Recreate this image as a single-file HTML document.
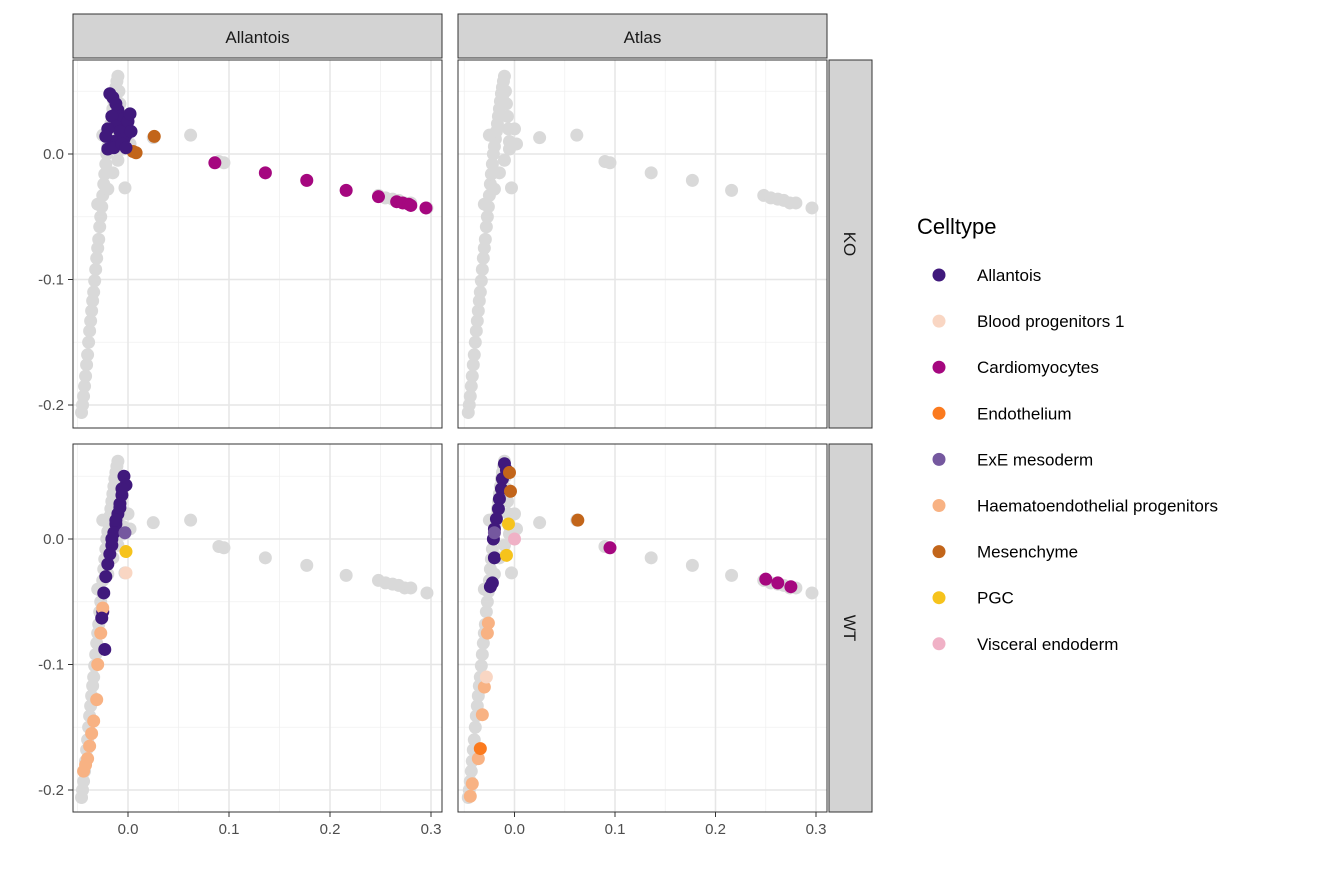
<!DOCTYPE html>
<html><head><meta charset="utf-8">
<style>
body{margin:0;background:#fff;font-family:"Liberation Sans",Arial,sans-serif;}
svg text{font-family:"Liberation Sans",Arial,sans-serif;}
</style></head>
<body>
<svg id="chart" width="1344" height="864" viewBox="0 0 1344 864"></svg>
<script>
// ---- data ----
const celltypes = ["Allantois","Blood progenitors 1","Cardiomyocytes","Endothelium","ExE mesoderm","Haematoendothelial progenitors","Mesenchyme","PGC","Visceral endoderm"];
const colors = ["#40197c","#f9d6c3","#a5077f","#fb7a1e","#75589f","#f8b283","#c2651a","#f6c31c","#f0b1c6"];
const xTicks = [0.0,0.1,0.2,0.3];
const xTickLabels = ["0.0","0.1","0.2","0.3"];
const yTicks = [0.0,-0.1,-0.2];
const yTickLabels = ["0.0","-0.1","-0.2"];
const colFacets = ["Allantois","Atlas"];
const rowFacets = ["KO","WT"];
// background (atlas) trajectory points
const bgX = [-0.046,-0.045,-0.044,-0.043,-0.042,-0.041,-0.040,-0.039,-0.038,-0.037,-0.036,-0.035,-0.034,-0.033,-0.032,-0.031,-0.030,-0.029,-0.028,-0.027,-0.026,-0.025,-0.024,-0.023,-0.022,-0.021,-0.020,-0.019,-0.018,-0.017,-0.016,-0.015,-0.014,-0.013,-0.012,-0.011,-0.010,-0.009,-0.008,-0.007,-0.006,-0.005,-0.020,-0.015,-0.010,-0.005,-0.003,0.0,0.002,-0.012,-0.025,-0.030,0.025,0.062,0.090,0.095,0.136,0.177,0.216,0.248,0.255,0.262,0.268,0.274,0.280,0.296];
const bgY = [-0.206,-0.200,-0.193,-0.185,-0.177,-0.168,-0.160,-0.150,-0.141,-0.133,-0.125,-0.117,-0.110,-0.101,-0.092,-0.083,-0.075,-0.068,-0.058,-0.050,-0.042,-0.033,-0.024,-0.016,-0.008,0.000,0.006,0.012,0.018,0.024,0.030,0.036,0.042,0.048,0.053,0.058,0.062,0.050,0.040,0.030,0.020,0.010,-0.028,-0.015,-0.005,0.004,-0.027,0.020,0.008,0.045,0.015,-0.040,0.013,0.015,-0.006,-0.007,-0.015,-0.021,-0.029,-0.033,-0.035,-0.036,-0.037,-0.039,-0.039,-0.043];
// colored points per panel
const ptPanel = [0,0,0,0,0,0,0,0,0,0,0,0,0,0, 0,0,0,0,0,0,0,0,0,0,0,
 0,0,0,0,0,0,0,0,0,0,0,0,
 2,2,2,2,2,2,2,2,2,2,2,2,2,2,2,2,2,2,2,2,2,2,2,2,2,2,2,2,
 2,2,2,2,
 3,3,3,3,3,3,3,3,3,3,3,3,3,3,3,3,3,3,3,3,3,3,3,3,3,3,3,3,3,3,3,3];
const ptType = [0,0,0,0,0,0,0,0,0,0,0,0,6,6, 6,2,2,2,2,2,2,2,2,2,2,
 0,0,0,0,0,0,0,0,0,0,0,0,
 0,0,0,0,0,0,0,0,0,0,0,0,0,0,4,7,1,5,5,5,5,5,5,5,5,5,5,0,
 0,0,0,0,
 0,0,0,0,0,0,0,0,0,0,0,6,6,4,7,7,8,0,5,5,5,5,5,3,5,1,5,6,2,2,2,2];
const ptX = [-0.018,-0.015,-0.012,-0.010,-0.008,-0.006,-0.004,-0.002,-0.010,-0.005,-0.020,-0.014,0.005,0.008, 0.026,0.086,0.136,0.177,0.216,0.248,0.266,0.272,0.278,0.280,0.295,
 -0.016,-0.012,-0.008,-0.004,0.000,0.002,-0.020,-0.014,-0.006,-0.002,0.003,-0.022,
 -0.004,-0.002,-0.006,-0.008,-0.010,-0.012,-0.014,-0.016,-0.018,-0.020,-0.022,-0.024,-0.025,-0.023,-0.003,-0.002,-0.002,-0.025,-0.027,-0.030,-0.031,-0.034,-0.036,-0.038,-0.040,-0.042,-0.044,-0.026,
 -0.008,-0.012,-0.016,-0.006,
 -0.010,-0.008,-0.012,-0.013,-0.015,-0.016,-0.018,-0.020,-0.021,-0.020,-0.024,-0.005,-0.004,-0.020,-0.006,-0.008,0.000,-0.022,-0.026,-0.027,-0.030,-0.032,-0.036,-0.034,-0.042,-0.028,-0.044,0.063,0.095,0.250,0.262,0.275,0.280];
const ptY = [0.048,0.045,0.040,0.035,0.030,0.025,0.020,0.015,0.010,0.028,0.004,0.010,0.002,0.001, 0.014,-0.007,-0.015,-0.021,-0.029,-0.034,-0.038,-0.039,-0.040,-0.041,-0.043,
 0.030,0.022,0.018,0.012,0.026,0.032,0.020,0.005,0.008,0.005,0.018,0.014,
 0.050,0.043,0.035,0.028,0.020,0.012,0.005,-0.005,-0.012,-0.020,-0.030,-0.043,-0.058,-0.088,0.005,-0.010,-0.027,-0.055,-0.075,-0.100,-0.128,-0.145,-0.155,-0.165,-0.175,-0.180,-0.185,-0.063,
 0.025,0.015,0.000,0.040,
 0.060,0.055,0.048,0.040,0.032,0.024,0.016,0.008,0.000,-0.015,-0.038,0.053,0.038,0.005,0.012,-0.013,0.000,-0.035,-0.067,-0.075,-0.118,-0.140,-0.175,-0.167,-0.195,-0.110,-0.205,0.015,-0.007,-0.032,-0.035,-0.038,-0.039];

// ---- layout ----
const NS="http://www.w3.org/2000/svg";
const svg=document.getElementById('chart');
function el(tag,attrs,parent){const e=document.createElementNS(NS,tag);for(const k in attrs)e.setAttribute(k,attrs[k]);(parent||svg).appendChild(e);return e;}
const colX0=[73,458], panelW=369, rowY0=[60,444], panelH=368;
function sx(col,v){const z=col===0?128:514.5, s=col===0?1010:1005;return z+v*s;}
function sy(row,v){const z=row===0?154:539;return z-v*1255;}

for(let r=0;r<2;r++)for(let c=0;c<2;c++){
  const p=r*2+c, x0=colX0[c], y0=rowY0[r];
  const g=el('g',{});
  
  
  el('rect',{x:x0,y:y0,width:panelW,height:panelH,fill:'#fff'},g);
  const cp=el('clipPath',{id:'cp'+p},g);el('rect',{x:x0,y:y0,width:panelW,height:panelH},cp);
  for(let i=-1;i<xTicks.length;i++){const v=(i<0?-0.05:xTicks[i]+0.05);const X=sx(c,v);if(X>x0&&X<x0+panelW)el('line',{x1:X,x2:X,y1:y0,y2:y0+panelH,stroke:'#f0f0f0','stroke-width':0.8},g);}
  [0.05,-0.05,-0.15].forEach(v=>{const Y=sy(r,v);el('line',{x1:x0,x2:x0+panelW,y1:Y,y2:Y,stroke:'#f0f0f0','stroke-width':0.8},g);});
  xTicks.forEach(v=>{const X=sx(c,v);el('line',{x1:X,x2:X,y1:y0,y2:y0+panelH,stroke:'#e6e6e6','stroke-width':1.5},g);});
  yTicks.forEach(v=>{const Y=sy(r,v);el('line',{x1:x0,x2:x0+panelW,y1:Y,y2:Y,stroke:'#e6e6e6','stroke-width':1.5},g);});
  const pg=el('g',{'clip-path':'url(#cp'+p+')'},g);
  for(let i=0;i<bgX.length;i++){const cc=el('circle',{cx:sx(c,bgX[i]),cy:sy(r,bgY[i]),r:6.5,fill:'#d9d9d9'},pg);
    
    }
  for(let i=0;i<ptX.length;i++){if(ptPanel[i]!==p)continue;const cc=el('circle',{cx:sx(c,ptX[i]),cy:sy(r,ptY[i]),r:6.5,fill:colors[ptType[i]]},pg);
    
    }
  el('rect',{x:x0,y:y0,width:panelW,height:panelH,fill:'none',stroke:'#333','stroke-width':1},g);
}
colFacets.forEach((f,c)=>{const g=el('g',{});
  el('rect',{x:colX0[c],y:14,width:panelW,height:44,fill:'#d3d3d3',stroke:'#333','stroke-width':1},g);
  const t=el('text',{x:colX0[c]+panelW/2,y:43,'text-anchor':'middle','font-size':17,fill:'#1a1a1a'},g);t.textContent=f;});
rowFacets.forEach((f,r)=>{const g=el('g',{});
  el('rect',{x:829,y:rowY0[r],width:43,height:panelH,fill:'#d3d3d3',stroke:'#333','stroke-width':1},g);
  const cy=rowY0[r]+panelH/2;const t=el('text',{x:844,y:cy,'text-anchor':'middle','font-size':17,fill:'#1a1a1a',transform:'rotate(90 844 '+cy+')'},g);t.textContent=f;});
for(let c=0;c<2;c++)xTicks.forEach((v,i)=>{const X=sx(c,v);el('line',{x1:X,x2:X,y1:812,y2:817,stroke:'#333'});
  const t=el('text',{x:X,y:834,'text-anchor':'middle','font-size':15,fill:'#4d4d4d'});t.textContent=xTickLabels[i];
  });
for(let r=0;r<2;r++)yTicks.forEach((v,i)=>{const Y=sy(r,v);el('line',{x1:68,x2:73,y1:Y,y2:Y,stroke:'#333'});
  const t=el('text',{x:64,y:Y+5,'text-anchor':'end','font-size':15,fill:'#4d4d4d'});t.textContent=yTickLabels[i];
  });
const lg=el('g',{});
const lt=el('text',{x:917,y:234,'font-size':22,fill:'#000'},lg);lt.textContent='Celltype';
celltypes.forEach((n,i)=>{const y=275+i*46.1;const e=el('g',{},lg);
  
  el('circle',{cx:939,cy:y,r:6.5,fill:colors[i]},e);
  const t=el('text',{x:977,y:y+6,'font-size':17,fill:'#000'},e);t.textContent=n;});
</script>
</body></html>
